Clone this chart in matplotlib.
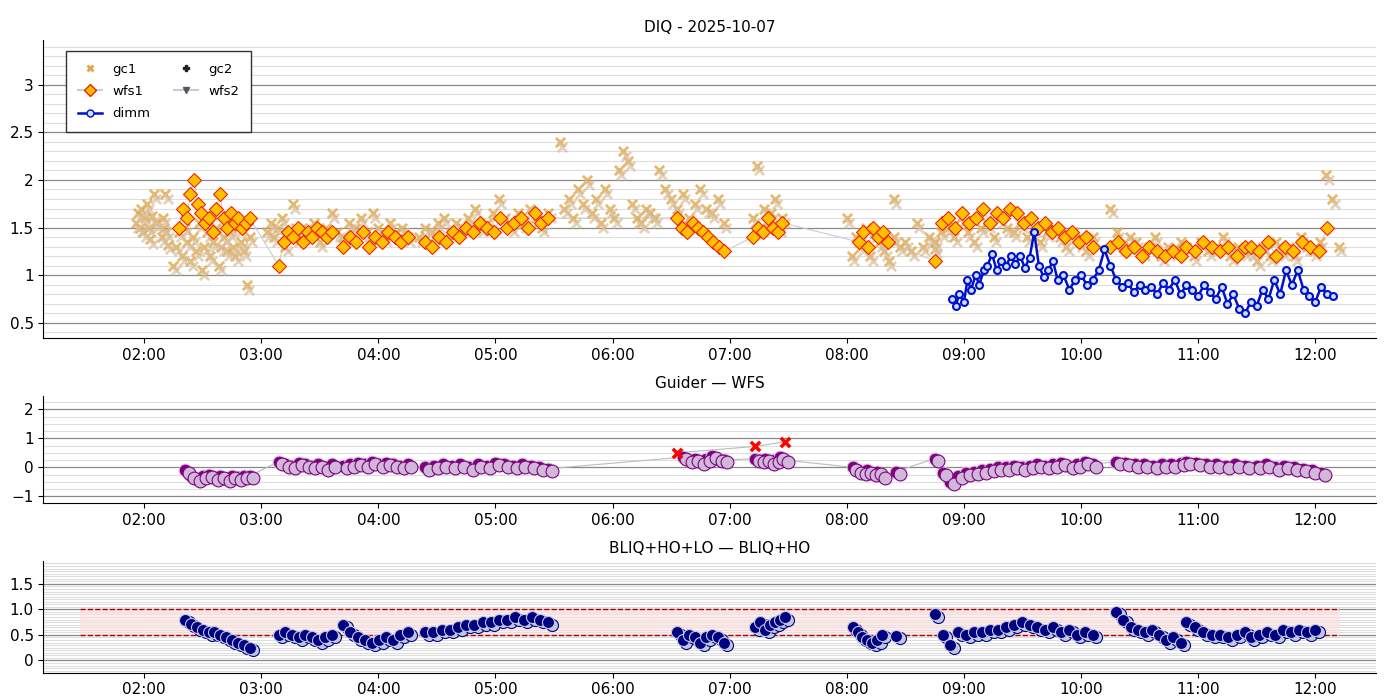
import numpy as np
import matplotlib.pyplot as plt
from matplotlib.ticker import FuncFormatter, MultipleLocator
from matplotlib.lines import Line2D

# segments: (start hour, end hour)
gc1_segments = [
    (1.93, 2.1, [1.55, 1.65, 1.5, 1.7, 1.45, 1.6, 1.75, 1.5, 1.38, 1.62, 1.85, 1.55]),
    (2.15, 2.2, [1.4, 1.6, 1.5, 1.85, 1.45, 1.32]),
    (2.25, 2.9, [1.1, 1.3, 1.45, 1.2, 1.5, 1.35, 1.15, 1.4, 1.25, 1.55, 1.05, 1.3, 1.45, 1.2,
                 1.35, 1.5, 1.1, 1.3, 1.4, 1.25, 1.45, 1.3, 1.2, 1.5, 1.35, 1.25, 0.9, 1.4]),
    (3.05, 3.3, [1.45, 1.55, 1.4, 1.5, 1.6, 1.3, 1.45, 1.75, 1.5]),
    (3.3, 4.25, [1.4, 1.5, 1.45, 1.55, 1.35, 1.5, 1.65, 1.45, 1.4, 1.55, 1.5, 1.6, 1.45, 1.65,
                 1.5, 1.4, 1.55, 1.45, 1.5, 1.4]),
    (4.35, 5.45, [1.4, 1.5, 1.45, 1.55, 1.6, 1.45, 1.55, 1.5, 1.6, 1.7, 1.5, 1.55, 1.65, 1.8,
                  1.6, 1.5, 1.65, 1.55, 1.7, 1.6, 1.5, 1.65]),
    (5.55, 6.4, [2.4, 1.7, 1.8, 1.6, 1.9, 1.75, 2.0, 1.65, 1.8, 1.55, 1.9, 1.7, 1.6, 2.1, 2.3,
                 2.2, 1.75, 1.6, 1.55, 1.7, 1.65, 1.6, 2.1]),
    (6.45, 6.95, [1.9, 1.8, 1.7, 1.85, 1.6, 1.75, 1.9, 1.7, 1.65, 1.8, 1.55]),
    (7.2, 7.45, [1.6, 2.15, 1.5, 1.7, 1.55, 1.65, 1.8, 1.5, 1.6]),
    (8.0, 8.4, [1.6, 1.2, 1.4, 1.3, 1.5, 1.2, 1.45, 1.35, 1.25, 1.15, 1.4]),
    (8.4, 8.75, [1.8, 1.3, 1.35, 1.25, 1.55, 1.3, 1.4, 1.28]),
    (8.75, 10.1, [1.35, 1.45, 1.5, 1.4, 1.6, 1.45, 1.35, 1.5, 1.55, 1.4, 1.6, 1.5, 1.45, 1.55,
                  1.4, 1.5, 1.35, 1.45, 1.5, 1.4, 1.3, 1.45, 1.35, 1.25, 1.4]),
    (10.25, 10.85, [1.7, 1.45, 1.3, 1.4, 1.35, 1.25, 1.3, 1.4, 1.2, 1.3, 1.25, 1.35]),
    (10.9, 11.4, [1.3, 1.2, 1.35, 1.25, 1.3, 1.4, 1.2, 1.3, 1.25]),
    (11.45, 12.2, [1.25, 1.15, 1.3, 1.2, 1.35, 1.25, 1.3, 1.2, 1.4, 1.3, 1.25, 1.35, 2.05, 1.8, 1.3]),
]
wfs1_segments = [
    (2.3, 2.9, [1.5, 1.7, 1.6, 1.85, 2.0, 1.75, 1.65, 1.55, 1.6, 1.45, 1.7, 1.85, 1.6, 1.5,
                1.65, 1.55, 1.6, 1.5, 1.55, 1.6]),
    (3.15, 3.6, [1.1, 1.35, 1.45, 1.4, 1.5, 1.35, 1.45, 1.4, 1.5, 1.45, 1.4, 1.45]),
    (3.7, 4.25, [1.3, 1.4, 1.35, 1.45, 1.3, 1.4, 1.35, 1.45, 1.4, 1.35, 1.4]),
    (4.4, 5.45, [1.35, 1.3, 1.4, 1.35, 1.45, 1.4, 1.5, 1.45, 1.55, 1.5, 1.45, 1.6, 1.5, 1.55,
                 1.6, 1.5, 1.65, 1.55, 1.6]),
    (6.55, 6.95, [1.6, 1.5, 1.45, 1.55, 1.5, 1.45, 1.4, 1.35, 1.3, 1.25]),
    (7.2, 7.45, [1.4, 1.5, 1.45, 1.6, 1.5, 1.45, 1.55]),
    (8.1, 8.35, [1.35, 1.45, 1.3, 1.5, 1.4, 1.45, 1.35]),
    (8.75, 10.1, [1.15, 1.55, 1.6, 1.5, 1.65, 1.55, 1.6, 1.7, 1.55, 1.65, 1.6, 1.7, 1.65, 1.55,
                  1.6, 1.5, 1.55, 1.45, 1.5, 1.4, 1.45, 1.35, 1.4, 1.3]),
    (10.25, 10.85, [1.3, 1.35, 1.25, 1.3, 1.2, 1.3, 1.25, 1.2, 1.25, 1.2]),
    (10.9, 11.4, [1.3, 1.25, 1.35, 1.3, 1.25, 1.3, 1.2, 1.3]),
    (11.45, 12.1, [1.3, 1.25, 1.35, 1.2, 1.3, 1.25, 1.35, 1.3, 1.25, 1.5]),
]
dimm_t = [8.9, 8.93, 8.96, 9.0, 9.03, 9.06, 9.1, 9.13, 9.17, 9.2, 9.24, 9.28, 9.32, 9.36, 9.4,
          9.44, 9.48, 9.52, 9.56, 9.6, 9.64, 9.68, 9.72, 9.76, 9.8, 9.85, 9.9, 9.95, 10.0, 10.05,
          10.1, 10.15, 10.2, 10.25, 10.3, 10.35, 10.4, 10.45, 10.5, 10.55, 10.6, 10.65, 10.7,
          10.75, 10.8, 10.85, 10.9, 10.95, 11.0, 11.05, 11.1, 11.15, 11.2, 11.25, 11.3, 11.35,
          11.4, 11.45, 11.5, 11.55, 11.6, 11.65, 11.7, 11.75, 11.8, 11.85, 11.9, 11.95, 12.0,
          12.05, 12.1, 12.15]
dimm_v = [0.75, 0.68, 0.8, 0.72, 0.95, 0.85, 1.0, 0.9, 1.05, 1.1, 1.22, 1.05, 1.15, 1.1, 1.2,
          1.12, 1.2, 1.08, 1.18, 1.45, 1.1, 0.98, 1.05, 1.15, 0.95, 1.0, 0.85, 0.95, 1.0, 0.9,
          0.95, 1.05, 1.27, 1.1, 0.95, 0.88, 0.92, 0.82, 0.9, 0.85, 0.88, 0.8, 0.92, 0.85, 0.95,
          0.8, 0.9, 0.85, 0.78, 0.9, 0.82, 0.75, 0.88, 0.7, 0.8, 0.65, 0.6, 0.72, 0.68, 0.85,
          0.75, 0.95, 0.8, 1.05, 0.9, 1.05, 0.85, 0.78, 0.72, 0.88, 0.8, 0.78]

diff_segments = [
    (2.35, 2.9, [-0.1, -0.3, -0.4, -0.3, -0.25, -0.35, -0.3, -0.4, -0.3, -0.35, -0.3, -0.3]),
    (3.15, 3.6, [0.2, 0.1, 0.05, 0.15, 0.1, 0.05, 0.1, 0.0, 0.1]),
    (3.7, 4.25, [0.05, 0.1, 0.15, 0.1, 0.2, 0.1, 0.15, 0.1, 0.05, 0.1]),
    (4.4, 5.45, [0.0, 0.05, 0.1, 0.05, 0.1, 0.0, 0.1, 0.05, 0.15, 0.1, 0.05, 0.1, 0.05, 0.0, -0.05]),
    (6.6, 6.95, [0.35, 0.25, 0.3, 0.2, 0.3, 0.4, 0.3, 0.25]),
    (7.22, 7.47, [0.3, 0.25, 0.3, 0.2, 0.25, 0.35, 0.25]),
    (8.05, 8.3, [0.0, -0.1, -0.15, -0.1, -0.2, -0.15, -0.3]),
    (8.42, 8.42, [-0.15]),
    (8.75, 10.1, [0.3, -0.2, -0.5, -0.3, -0.2, -0.15, -0.1, -0.05, 0.0, 0.0, 0.05, 0.0, 0.05,
                  0.1, 0.05, 0.1, 0.15, 0.05, 0.1, 0.2, 0.1]),
    (10.3, 10.85, [0.2, 0.15, 0.1, 0.1, 0.05, 0.1, 0.1, 0.15]),
    (10.9, 11.4, [0.2, 0.15, 0.1, 0.1, 0.05, 0.1, 0.05]),
    (11.5, 12.05, [0.05, 0.1, 0.0, 0.05, 0.0, -0.05, -0.1, -0.2]),
]
diff_flag_t = [6.55, 7.22, 7.47]
diff_flag_v = [0.5, 0.72, 0.88]

bliq_segments = [
    (2.35, 2.9, [0.8, 0.72, 0.65, 0.6, 0.55, 0.55, 0.5, 0.45, 0.4, 0.35, 0.3, 0.25]),
    (3.15, 3.6, [0.5, 0.55, 0.5, 0.45, 0.5, 0.45, 0.4, 0.45, 0.5]),
    (3.7, 4.25, [0.7, 0.55, 0.45, 0.4, 0.35, 0.4, 0.45, 0.4, 0.5, 0.55]),
    (4.4, 5.45, [0.55, 0.55, 0.6, 0.6, 0.65, 0.7, 0.7, 0.75, 0.75, 0.8, 0.8, 0.85, 0.8, 0.85,
                 0.8, 0.75]),
    (6.55, 6.95, [0.55, 0.4, 0.5, 0.45, 0.35, 0.45, 0.5, 0.45, 0.35]),
    (7.22, 7.47, [0.65, 0.75, 0.6, 0.7, 0.75, 0.8, 0.85]),
    (8.05, 8.3, [0.65, 0.55, 0.45, 0.4, 0.35, 0.4, 0.5]),
    (8.42, 8.42, [0.48]),
    (8.75, 10.1, [0.9, 0.5, 0.3, 0.55, 0.5, 0.55, 0.55, 0.6, 0.6, 0.65, 0.7, 0.75, 0.7, 0.65,
                  0.6, 0.65, 0.55, 0.6, 0.5, 0.55, 0.5]),
    (10.3, 10.85, [0.95, 0.8, 0.65, 0.6, 0.55, 0.6, 0.5, 0.4, 0.45, 0.35]),
    (10.9, 11.4, [0.75, 0.65, 0.55, 0.5, 0.5, 0.45, 0.5, 0.55]),
    (11.45, 12.0, [0.45, 0.5, 0.55, 0.5, 0.6, 0.55, 0.6, 0.55, 0.6]),
]
band_lo, band_hi = 0.5, 1.0
band_t0, band_t1 = 1.45, 12.2


def expand(segments):
    t, v = [], []
    for t0, t1, vals in segments:
        t.extend(np.linspace(t0, t1, len(vals)))
        v.extend(vals)
    return np.array(t), np.array(v)


def hhmm(x, pos):
    return f"{int(x):02d}:{int(round((x % 1) * 60)):02d}"


def style(ax, ylim, major, minor):
    ax.set_xlim(1.14, 12.52)
    ax.set_ylim(*ylim)
    ax.xaxis.set_major_locator(MultipleLocator(1))
    ax.xaxis.set_major_formatter(FuncFormatter(hhmm))
    ax.yaxis.set_major_locator(MultipleLocator(major))
    ax.yaxis.set_minor_locator(MultipleLocator(minor))
    ax.grid(True, which='major', axis='y', color='#888888', lw=0.9)
    ax.grid(True, which='minor', axis='y', color='#dddddd', lw=0.8)
    ax.set_axisbelow(True)
    for s in ('top', 'right'):
        ax.spines[s].set_visible(False)
    ax.tick_params(axis='both', labelsize=11)
    ax.tick_params(axis='y', which='minor', length=0)


fig = plt.figure(figsize=(14, 7), dpi=100)
ax1 = fig.add_axes([0.031, 0.517, 0.952, 0.426])
ax2 = fig.add_axes([0.031, 0.281, 0.952, 0.153])
ax3 = fig.add_axes([0.031, 0.039, 0.952, 0.159])

gt, gv = expand(gc1_segments)
wt, wv = expand(wfs1_segments)
ax1.plot(wt, wv, color='#cccccc', lw=0.8, zorder=2)
ax1.scatter(gt, gv, marker='x', s=45, color='#e0a84a', lw=2, alpha=0.8, zorder=3)
ax1.scatter(gt + 0.02, gv - 0.05, marker='x', s=45, color='#d8c0a0', lw=2, alpha=0.7, zorder=3)
ax1.plot(wt, wv, ls='none', marker='D', ms=7, mfc='#ffc000', mec='#ee2200', mew=0.8, zorder=4)
ax1.plot(dimm_t, dimm_v, color='#0010cc', lw=1.8, marker='o', ms=5, mfc='#c8e0f0',
         mec='#0010cc', mew=1.5, zorder=5)
ax1.set_title('DIQ - 2025-10-07', fontsize=11)
style(ax1, (0.34, 3.47), 0.5, 0.1)
ax1.yaxis.set_major_formatter(FuncFormatter(lambda y, p: f"{y:g}"))

handles = [
    Line2D([], [], ls='none', marker='x', color='#e0a84a', mew=2, ms=5),
    Line2D([], [], color='#cccccc', marker='D', mfc='#ffc000', mec='#ee2200', ms=6),
    Line2D([], [], color='#0010cc', lw=1.8, marker='o', mfc='#c8e0f0', mec='#0010cc', ms=5),
    Line2D([], [], ls='none', marker='P', color='#222222', ms=5),
    Line2D([], [], color='#cccccc', marker='v', mfc='#555566', mec='#555566', ms=5),
]
leg = ax1.legend(handles, ['gc1', 'wfs1', 'dimm', 'gc2', 'wfs2'], ncol=2, loc='upper left',
                 bbox_to_anchor=(0.012, 0.985), fancybox=False, edgecolor='#333333',
                 framealpha=1, borderpad=0.9, labelspacing=0.7, columnspacing=1.8,
                 handlelength=1.8, fontsize=9.5)

dt, dv = expand(diff_segments)
ax2.plot(dt, dv, color='#bbbbbb', lw=0.8, zorder=2)
ax2.scatter(dt, dv, s=85, color='#800080', edgecolor='#d8c8e0', lw=0.8, zorder=3)
ax2.scatter(dt + 0.03, dv - 0.08, s=85, color='#d0b8d8', edgecolor='#800080', lw=0.8, zorder=3)
ax2.plot(diff_flag_t, diff_flag_v, color='#bbbbbb', lw=0.8, zorder=2)
ax2.scatter(diff_flag_t, diff_flag_v, marker='x', s=45, color='red', lw=2.5, zorder=4)
ax2.set_title('Guider — WFS', fontsize=11)
style(ax2, (-1.24, 2.45), 1, 0.25)

bt, bv = expand(bliq_segments)
ax3.axhspan(band_lo, band_hi, xmin=(band_t0 - 1.14) / 11.38, xmax=(band_t1 - 1.14) / 11.38,
            color='#ffdddd', alpha=0.5, zorder=1)
ax3.hlines([band_lo, band_hi], band_t0, band_t1, colors='#aa0000', linestyles='--', lw=1, zorder=2)
ax3.scatter(bt + 0.03, bv - 0.05, s=75, color='#c0c8e0', edgecolor='#000080', lw=0.8, zorder=3)
ax3.scatter(bt, bv, s=75, color='#000080', edgecolor='#c0c8e0', lw=0.8, zorder=3)
ax3.set_title('BLIQ+HO+LO — BLIQ+HO', fontsize=11)
style(ax3, (-0.24, 1.94), 0.5, 0.05)
ax3.yaxis.set_major_formatter(FuncFormatter(lambda y, p: f"{y:.1f}" if y > 0 else "0"))

fig.savefig('out.png', dpi=100)
